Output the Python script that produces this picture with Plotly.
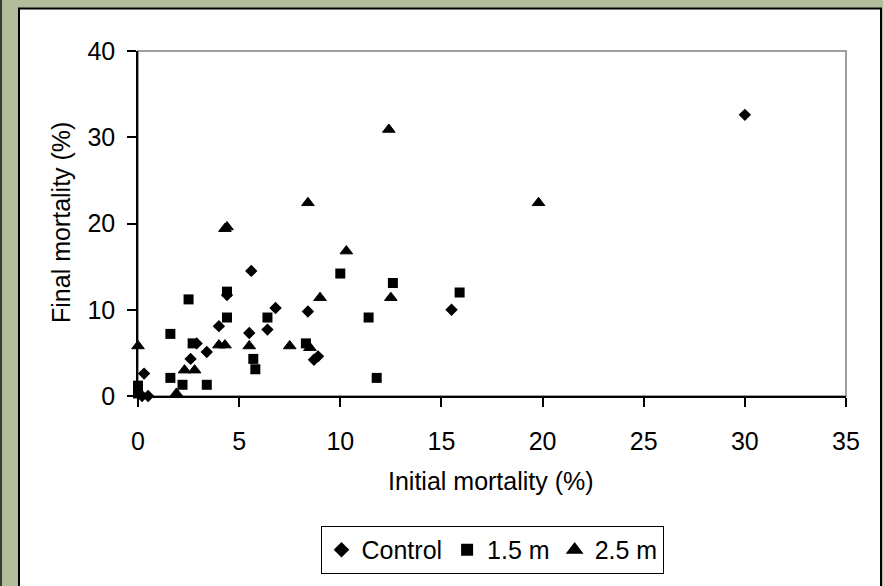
import plotly.graph_objects as go

# ---- data ----
control_x = [0.2, 0.5, 0.3, 2.6, 2.9, 3.4, 4.0, 4.4, 5.5, 5.6, 6.4, 6.8, 8.4, 8.7, 8.9, 15.5, 30.0]
control_y = [0.0, 0.0, 2.6, 4.3, 6.1, 5.1, 8.1, 11.7, 7.3, 14.5, 7.7, 10.2, 9.8, 4.2, 4.6, 10.0, 32.6]

m15_x = [0.0, 0.0, 1.6, 1.6, 2.5, 2.7, 2.2, 3.4, 4.4, 4.4, 6.4, 5.7, 5.8, 8.3, 10.0, 11.4, 11.8, 12.6, 15.9]
m15_y = [1.2, 0.3, 7.2, 2.1, 11.2, 6.1, 1.3, 1.3, 12.1, 9.1, 9.1, 4.3, 3.1, 6.1, 14.2, 9.1, 2.1, 13.1, 12.0]

m25_x = [0.0, 0.1, 1.9, 2.3, 2.8, 4.0, 4.3, 5.5, 7.5, 8.5, 9.0, 10.3, 4.3, 4.4, 8.4, 12.4, 12.5, 19.8]
m25_y = [5.8, 0.2, 0.3, 3.0, 3.0, 5.9, 5.9, 5.8, 5.8, 5.6, 11.4, 16.8, 19.4, 19.6, 22.4, 30.9, 11.4, 22.4]

x_ticks = [0, 5, 10, 15, 20, 25, 30, 35]
y_ticks = [0, 10, 20, 30, 40]

# ---- layout geometry (pixels) ----
W, H = 883, 586
L, R, T, B = 138, 37, 51, 186
pw, ph = W - L - R, H - T - B


def px(x):
    return (x - L) / pw


def py(y):
    return (H - B - y) / ph


FONT = "Arial, Liberation Sans, sans-serif"
FS = 25

fig = go.Figure()
fig.add_trace(go.Scatter(x=control_x, y=control_y, mode="markers", name="Control",
                         marker=dict(symbol="diamond", size=9.5, color="black"),
                         cliponaxis=False))
fig.add_trace(go.Scatter(x=m15_x, y=m15_y, mode="markers", name="1.5 m",
                         marker=dict(symbol="square", size=10, color="black"),
                         cliponaxis=False))
fig.add_trace(go.Scatter(x=m25_x, y=m25_y, mode="markers", name="2.5 m",
                         marker=dict(symbol="triangle-up", size=11, color="black",
                                     line=dict(width=1, color="black")),
                         cliponaxis=False))

shapes = [
    # outer white chart area with black frame
    dict(type="rect", xref="paper", yref="paper", x0=px(19), x1=px(881), y0=py(596), y1=py(8),
         line=dict(color="black", width=2), fillcolor="white", layer="below"),
    # thin dark line at far left
    dict(type="line", xref="paper", yref="paper", x0=px(1), x1=px(1), y0=py(596), y1=py(-5),
         line=dict(color="#3a3a3a", width=2), layer="below"),
    # grey plot-area border
    dict(type="rect", xref="paper", yref="paper", x0=0, x1=1, y0=0, y1=1,
         line=dict(color="#808080", width=1.5), layer="below"),
]

annotations = [
    dict(text="Initial mortality (%)", xref="paper", yref="paper", x=px(491), y=py(486),
         showarrow=False, xanchor="center", yanchor="middle",
         font=dict(family=FONT, size=FS, color="black")),
    dict(text="Final mortality (%)", xref="paper", yref="paper", x=px(61), y=py(225),
         showarrow=False, xanchor="center", yanchor="middle", textangle=-90,
         font=dict(family=FONT, size=FS, color="black")),
]

fig.update_layout(
    width=W, height=H,
    margin=dict(l=L, r=R, t=T, b=B, pad=0),
    paper_bgcolor="#b3bd9c",
    plot_bgcolor="white",
    font=dict(family=FONT, size=FS, color="black"),
    shapes=shapes,
    annotations=annotations,
    showlegend=True,
    legend=dict(orientation="h", x=0.5, xanchor="center", y=py(580), yanchor="bottom",
                bordercolor="black", borderwidth=1, bgcolor="white",
                font=dict(family=FONT, size=FS, color="black"),
                itemwidth=30, itemsizing="constant", tracegroupgap=0),
    xaxis=dict(range=[0, 35], tickvals=x_ticks, ticktext=[str(v) for v in x_ticks],
               showgrid=False, zeroline=False, showline=True, linecolor="black", linewidth=1.5,
               ticks="outside", ticklen=9, tickwidth=1.5, tickcolor="black",
               ticklabelstandoff=13,
               tickfont=dict(family=FONT, size=FS, color="black"), fixedrange=True),
    yaxis=dict(range=[0, 40], tickvals=y_ticks, ticktext=[str(v) for v in y_ticks],
               showgrid=False, zeroline=False, showline=True, linecolor="black", linewidth=1.5,
               ticks="outside", ticklen=9, tickwidth=1.5, tickcolor="black",
               ticklabelstandoff=7,
               tickfont=dict(family=FONT, size=FS, color="black"), fixedrange=True),
)

fig.write_html("out.html", config={"displayModeBar": False})
